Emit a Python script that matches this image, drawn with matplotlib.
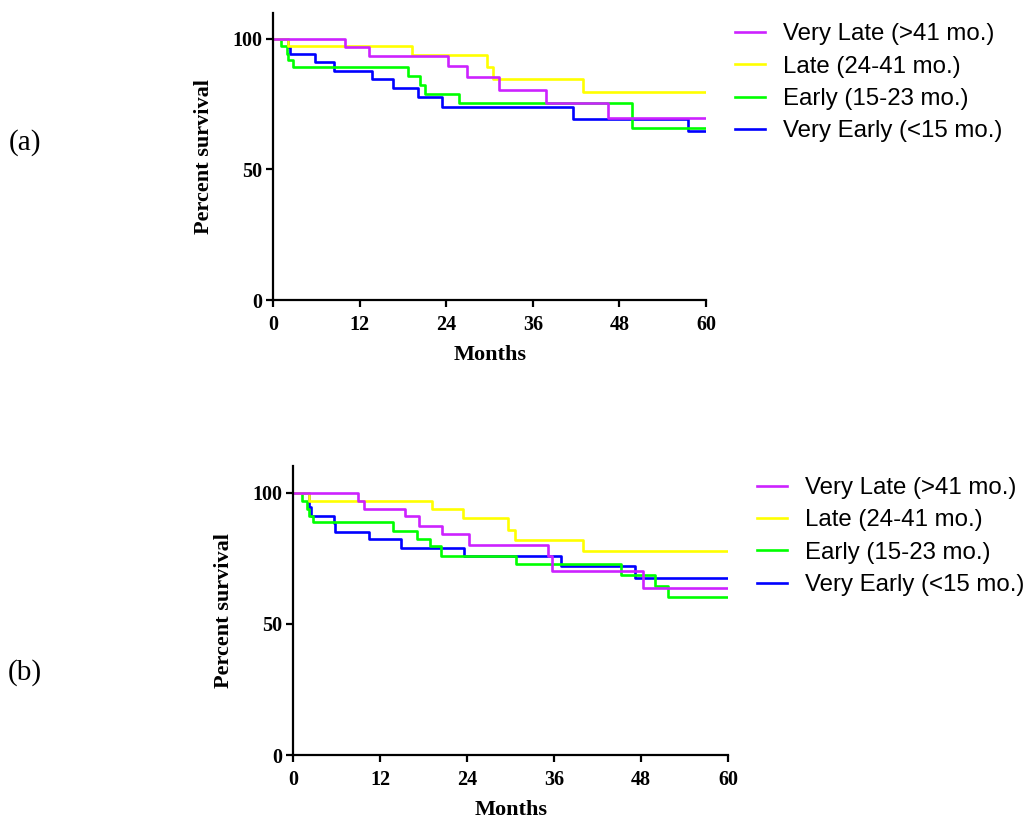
import matplotlib
matplotlib.use("Agg")
import matplotlib.pyplot as plt

# legend labels and colours
groups = ["Very Late (>41 mo.)", "Late (24-41 mo.)", "Early (15-23 mo.)", "Very Early (<15 mo.)"]
colors = ["#CC22FF", "#FFFF00", "#00FF00", "#0000FF"]

# panel (a) - step times (months) and percent survival
a_very_late_t = [0, 10.0, 13.3, 24.2, 26.9, 31.3, 37.8, 46.4, 60]
a_very_late_s = [100, 97.0, 93.6, 89.5, 85.3, 80.5, 75.4, 69.6, 69.6]
a_late_t = [0, 2.1, 19.2, 29.6, 30.5, 42.9, 60]
a_late_s = [100, 97.2, 93.8, 89.3, 84.6, 79.5, 79.5]
a_early_t = [0, 1.1, 1.9, 2.1, 2.7, 18.7, 20.4, 21.1, 25.8, 49.8, 60]
a_early_s = [100, 97.2, 94.2, 91.7, 89.1, 85.6, 82.4, 78.8, 75.3, 65.8, 65.8]
a_very_early_t = [0, 2.0, 2.35, 5.8, 8.4, 13.7, 16.6, 20.0, 23.4, 41.6, 57.5, 60]
a_very_early_s = [100, 97.0, 94.2, 91.0, 87.8, 84.6, 81.2, 77.8, 74.0, 69.2, 64.7, 64.7]

# panel (b)
b_very_late_t = [0, 8.9, 9.8, 15.4, 17.4, 20.5, 24.3, 35.2, 35.7, 48.3, 60]
b_very_late_s = [100, 96.9, 93.9, 91.0, 87.5, 84.2, 80.0, 75.7, 70.0, 63.6, 63.6]
b_late_t = [0, 2.1, 19.1, 23.4, 29.7, 30.6, 40.0, 60]
b_late_s = [100, 96.9, 93.8, 90.3, 85.9, 82.1, 77.6, 77.6]
b_early_t = [0, 1.2, 1.9, 2.1, 2.7, 13.7, 17.1, 18.8, 20.4, 30.8, 45.3, 49.9, 51.7, 60]
b_early_s = [100, 96.9, 93.9, 91.0, 88.7, 85.5, 82.3, 79.5, 76.0, 72.9, 68.7, 64.5, 60.2, 60.2]
b_very_early_t = [0, 2.1, 2.5, 5.6, 5.8, 10.4, 14.9, 23.6, 37.0, 47.2, 60]
b_very_early_s = [100, 94.5, 91.3, 88.4, 85.2, 82.3, 79.1, 76.0, 72.1, 67.4, 67.4]

x_ticks = [0, 12, 24, 36, 48, 60]
y_ticks = [0, 50, 100]

serif = "Liberation Serif"
sans = "Liberation Sans"

fig = plt.figure(figsize=(10.32, 8.21), dpi=100)
W, H = 1032, 821


def panel(rect, curves, legend_xy, tag, tag_xy):
    ax = fig.add_axes(rect)
    handles = []
    # draw blue first, magenta last
    for (t, s), c, lab in reversed(list(zip(curves, colors, groups))):
        h, = ax.step(t, s, where="post", color=c, lw=1.9, label=lab)
        handles.append(h)
    handles = handles[::-1]
    ax.set_xlim(0, 60)
    ax.set_ylim(0, 110)
    ax.set_xticks(x_ticks)
    ax.set_yticks(y_ticks)
    for sp in ["top", "right"]:
        ax.spines[sp].set_visible(False)
    for sp in ["left", "bottom"]:
        ax.spines[sp].set_linewidth(1.6)
    ax.tick_params(width=1.6, length=5, direction="out")
    ax.tick_params(axis="y", pad=3)
    ax.tick_params(axis="x", pad=6)
    for lbl in ax.get_xticklabels() + ax.get_yticklabels():
        lbl.set_fontfamily(serif)
        lbl.set_fontweight("bold")
        lbl.set_fontsize(14.5)
    ax.set_xlabel("Months", fontfamily=serif, fontweight="bold", fontsize=16, labelpad=7)
    ax.set_ylabel("Percent survival", fontfamily=serif, fontweight="bold", fontsize=16, labelpad=13)
    fig.legend(handles=handles, labels=groups, loc="upper left",
               bbox_to_anchor=(legend_xy[0] / W, 1 - legend_xy[1] / H),
               bbox_transform=fig.transFigure, frameon=False,
               prop={"family": sans, "size": 17.3}, handlelength=1.25,
               handletextpad=0.73, labelspacing=0.43, borderpad=0, borderaxespad=0)
    fig.text(tag_xy[0] / W, 1 - tag_xy[1] / H, tag, fontfamily=serif, fontsize=21,
             ha="left", va="center")
    return ax


panel([273.3 / W, (H - 300) / H, 432.7 / W, 287.3 / H],
      [(a_very_late_t, a_very_late_s), (a_late_t, a_late_s),
       (a_early_t, a_early_s), (a_very_early_t, a_very_early_s)],
      (735, 23.5), "(a)", (9, 143))

panel([293.3 / W, (H - 755) / H, 434.7 / W, 288.5 / H],
      [(b_very_late_t, b_very_late_s), (b_late_t, b_late_s),
       (b_early_t, b_early_s), (b_very_early_t, b_very_early_s)],
      (757, 477), "(b)", (8, 673))

fig.savefig("out.png", dpi=100)
